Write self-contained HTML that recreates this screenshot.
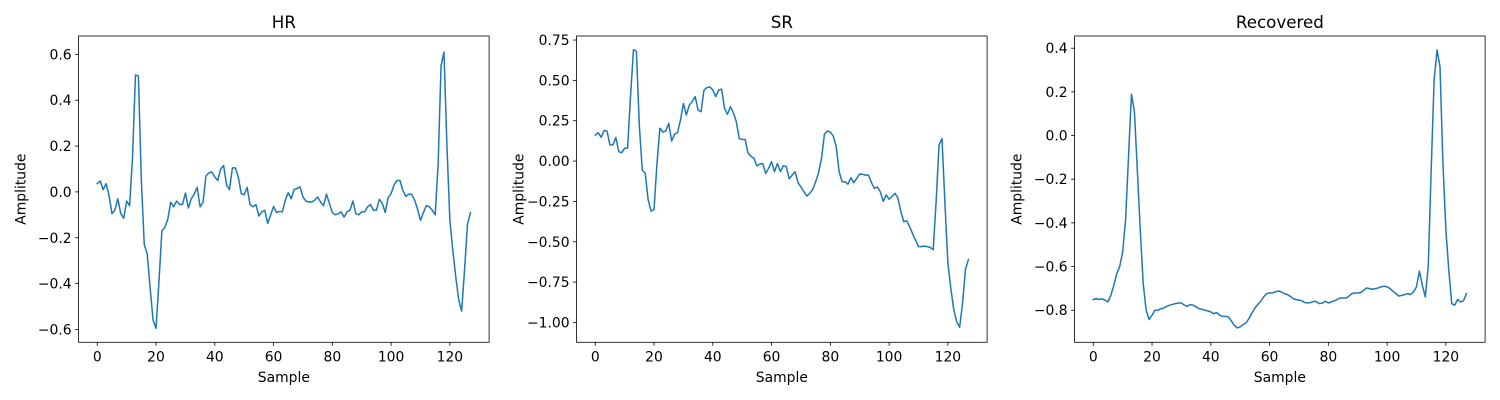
<!DOCTYPE html>
<html><head><meta charset="utf-8"><style>
html,body{margin:0;padding:0;background:#fff;}
svg{display:block;font-family:"DejaVu Sans","Liberation Sans",sans-serif;}
</style></head><body>
<svg id="fig" width="1500" height="400" viewBox="0 0 1500 400" xmlns="http://www.w3.org/2000/svg"></svg>
<script>
const samples = 128;
const hrValues = [0.036,0.048,0.01,0.036,-0.015,-0.095,-0.08,-0.03,-0.095,-0.115,-0.04,-0.06,0.15,0.51,0.505,0.05,-0.23,-0.27,-0.42,-0.56,-0.595,-0.39,-0.17,-0.155,-0.12,-0.045,-0.065,-0.04,-0.055,-0.055,-0.005,-0.07,-0.03,-0.01,0.02,-0.065,-0.045,0.07,0.083,0.087,0.065,0.05,0.10,0.115,0.03,0.01,0.105,0.105,0.065,-0.007,-0.013,0.02,-0.055,-0.065,-0.055,-0.105,-0.087,-0.08,-0.138,-0.1,-0.063,-0.09,-0.085,-0.087,-0.036,-0.004,-0.03,0.01,0.015,0.022,-0.022,-0.04,-0.044,-0.044,-0.036,-0.022,-0.044,-0.06,-0.01,-0.05,-0.09,-0.1,-0.095,-0.087,-0.11,-0.087,-0.08,-0.04,-0.095,-0.1,-0.087,-0.087,-0.065,-0.055,-0.08,-0.08,-0.032,-0.05,-0.09,-0.025,-0.007,0.03,0.05,0.05,0.007,-0.02,-0.01,-0.01,-0.036,-0.075,-0.124,-0.09,-0.06,-0.065,-0.08,-0.1,0.12,0.55,0.61,0.2,-0.124,-0.255,-0.37,-0.47,-0.52,-0.34,-0.14,-0.09];
const srValues = [0.161,0.176,0.147,0.19,0.186,0.10,0.10,0.147,0.058,0.052,0.08,0.08,0.40,0.69,0.68,0.22,-0.056,-0.076,-0.24,-0.31,-0.30,-0.015,0.203,0.18,0.186,0.234,0.124,0.167,0.176,0.254,0.357,0.285,0.347,0.368,0.40,0.316,0.306,0.44,0.455,0.46,0.44,0.40,0.44,0.446,0.326,0.29,0.337,0.30,0.244,0.14,0.134,0.134,0.048,0.03,0.017,-0.03,-0.019,-0.015,-0.076,-0.045,-0.004,-0.066,-0.015,-0.066,-0.029,-0.035,-0.11,-0.087,-0.066,-0.134,-0.16,-0.19,-0.217,-0.20,-0.176,-0.128,-0.072,0.017,0.167,0.186,0.18,0.155,0.089,-0.066,-0.128,-0.128,-0.143,-0.103,-0.134,-0.107,-0.08,-0.082,-0.087,-0.087,-0.134,-0.17,-0.16,-0.19,-0.25,-0.21,-0.236,-0.22,-0.20,-0.23,-0.314,-0.376,-0.37,-0.407,-0.45,-0.49,-0.53,-0.53,-0.526,-0.53,-0.535,-0.55,-0.25,0.10,0.14,-0.26,-0.63,-0.79,-0.92,-0.996,-1.03,-0.88,-0.67,-0.61];
const recValues = [-0.751,-0.747,-0.751,-0.748,-0.754,-0.762,-0.731,-0.686,-0.632,-0.60,-0.533,-0.387,-0.097,0.189,0.11,-0.158,-0.433,-0.678,-0.80,-0.843,-0.823,-0.80,-0.80,-0.793,-0.79,-0.782,-0.777,-0.773,-0.77,-0.767,-0.767,-0.777,-0.782,-0.774,-0.777,-0.785,-0.793,-0.796,-0.80,-0.803,-0.808,-0.816,-0.811,-0.823,-0.828,-0.828,-0.831,-0.849,-0.869,-0.881,-0.876,-0.866,-0.858,-0.838,-0.813,-0.79,-0.774,-0.759,-0.739,-0.724,-0.721,-0.721,-0.716,-0.712,-0.716,-0.724,-0.728,-0.736,-0.747,-0.751,-0.754,-0.757,-0.765,-0.767,-0.765,-0.759,-0.762,-0.77,-0.767,-0.759,-0.767,-0.762,-0.757,-0.751,-0.744,-0.744,-0.744,-0.736,-0.724,-0.721,-0.721,-0.719,-0.709,-0.698,-0.701,-0.704,-0.701,-0.698,-0.693,-0.69,-0.693,-0.701,-0.713,-0.724,-0.735,-0.732,-0.728,-0.724,-0.728,-0.716,-0.693,-0.621,-0.686,-0.739,-0.60,-0.158,0.255,0.392,0.316,-0.128,-0.433,-0.617,-0.77,-0.777,-0.751,-0.762,-0.757,-0.724];
const xTicks = [0,20,40,60,80,100,120];
const hrYTicks = [-0.6,-0.4,-0.2,0.0,0.2,0.4,0.6];
const hrYLabels = ["\u22120.6","\u22120.4","\u22120.2","0.0","0.2","0.4","0.6"];
const srYTicks = [-1.0,-0.75,-0.5,-0.25,0,0.25,0.5,0.75];
const srYLabels = ["\u22121.00","\u22120.75","\u22120.50","\u22120.25","0.00","0.25","0.50","0.75"];
const recYTicks = [-0.8,-0.6,-0.4,-0.2,0.0,0.2,0.4];
const recYLabels = ["\u22120.8","\u22120.6","\u22120.4","\u22120.2","0.0","0.2","0.4"];
const titles = ["HR","SR","Recovered"];

const NS = "http://www.w3.org/2000/svg";
const svg = document.getElementById('fig');
function mk(tag, attrs, parent){
  const e = document.createElementNS(NS, tag);
  for (const k in attrs) e.setAttribute(k, attrs[k]);
  (parent||svg).appendChild(e);
  return e;
}
const panels = [
  {key:'hr', vals:hrValues, yt:hrYTicks, yl:hrYLabels, ymin:-0.656, ymax:0.68, left:78.6},
  {key:'sr', vals:srValues, yt:srYTicks, yl:srYLabels, ymin:-1.123, ymax:0.775, left:576.6},
  {key:'recovered', vals:recValues, yt:recYTicks, yl:recYLabels, ymin:-0.947, ymax:0.456, left:1074.6}
];
const W = 410.5, TOP = 36, H = 306.3, XMIN = -6.35, XMAX = 133.35;
panels.forEach((p, pi) => {
  const g = mk('g', {});
  
  
  const xs = v => p.left + (v - XMIN) / (XMAX - XMIN) * W;
  const ys = v => TOP + (p.ymax - v) / (p.ymax - p.ymin) * H;
  // line
  const pts = p.vals.map((v, i) => xs(i).toFixed(2) + ',' + ys(v).toFixed(2)).join(' ');
  const line = mk('polyline', {points: pts, fill:'none', stroke:'#1f77b4', 'stroke-width':1.5, 'stroke-linejoin':'round', 'stroke-linecap':'square'}, g);
  
  
  // frame
  const fr = mk('rect', {x:p.left, y:TOP, width:W, height:H, fill:'none', stroke:'#000', 'stroke-width':0.8}, g);
  
  
  // x ticks
  xTicks.forEach(t => {
    const x = xs(t);
    mk('line', {x1:x, x2:x, y1:TOP+H, y2:TOP+H+3.5, stroke:'#000', 'stroke-width':0.8}, g);
    const tx = mk('text', {x:x, y:361.5, 'font-size':13.9, 'text-anchor':'middle', fill:'#000'}, g);
    
    
    tx.textContent = String(t);
  });
  // y ticks
  p.yt.forEach((t, k) => {
    const y = ys(t);
    mk('line', {x1:p.left-3.5, x2:p.left, y1:y, y2:y, stroke:'#000', 'stroke-width':0.8}, g);
    const ty = mk('text', {x:p.left-7, y:y+5, 'font-size':13.9, 'text-anchor':'end', fill:'#000'}, g);
    
    
    ty.textContent = p.yl[k];
  });
  const tt = mk('text', {x:p.left+W/2, y:28, 'font-size':16.7, 'text-anchor':'middle', fill:'#000'}, g);
  
  
  tt.textContent = titles[pi];
  const xl = mk('text', {x:p.left+W/2, y:382, 'font-size':13.9, 'text-anchor':'middle', fill:'#000'}, g);
  
  
  xl.textContent = 'Sample';
  const yx = p.left - 53, yy = TOP + H/2;
  const yl = mk('text', {x:yx, y:yy, 'font-size':13.9, 'text-anchor':'middle', fill:'#000', transform:'rotate(-90 '+yx+' '+yy+')'}, g);
  
  
  yl.textContent = 'Amplitude';
});
</script>
</body></html>
